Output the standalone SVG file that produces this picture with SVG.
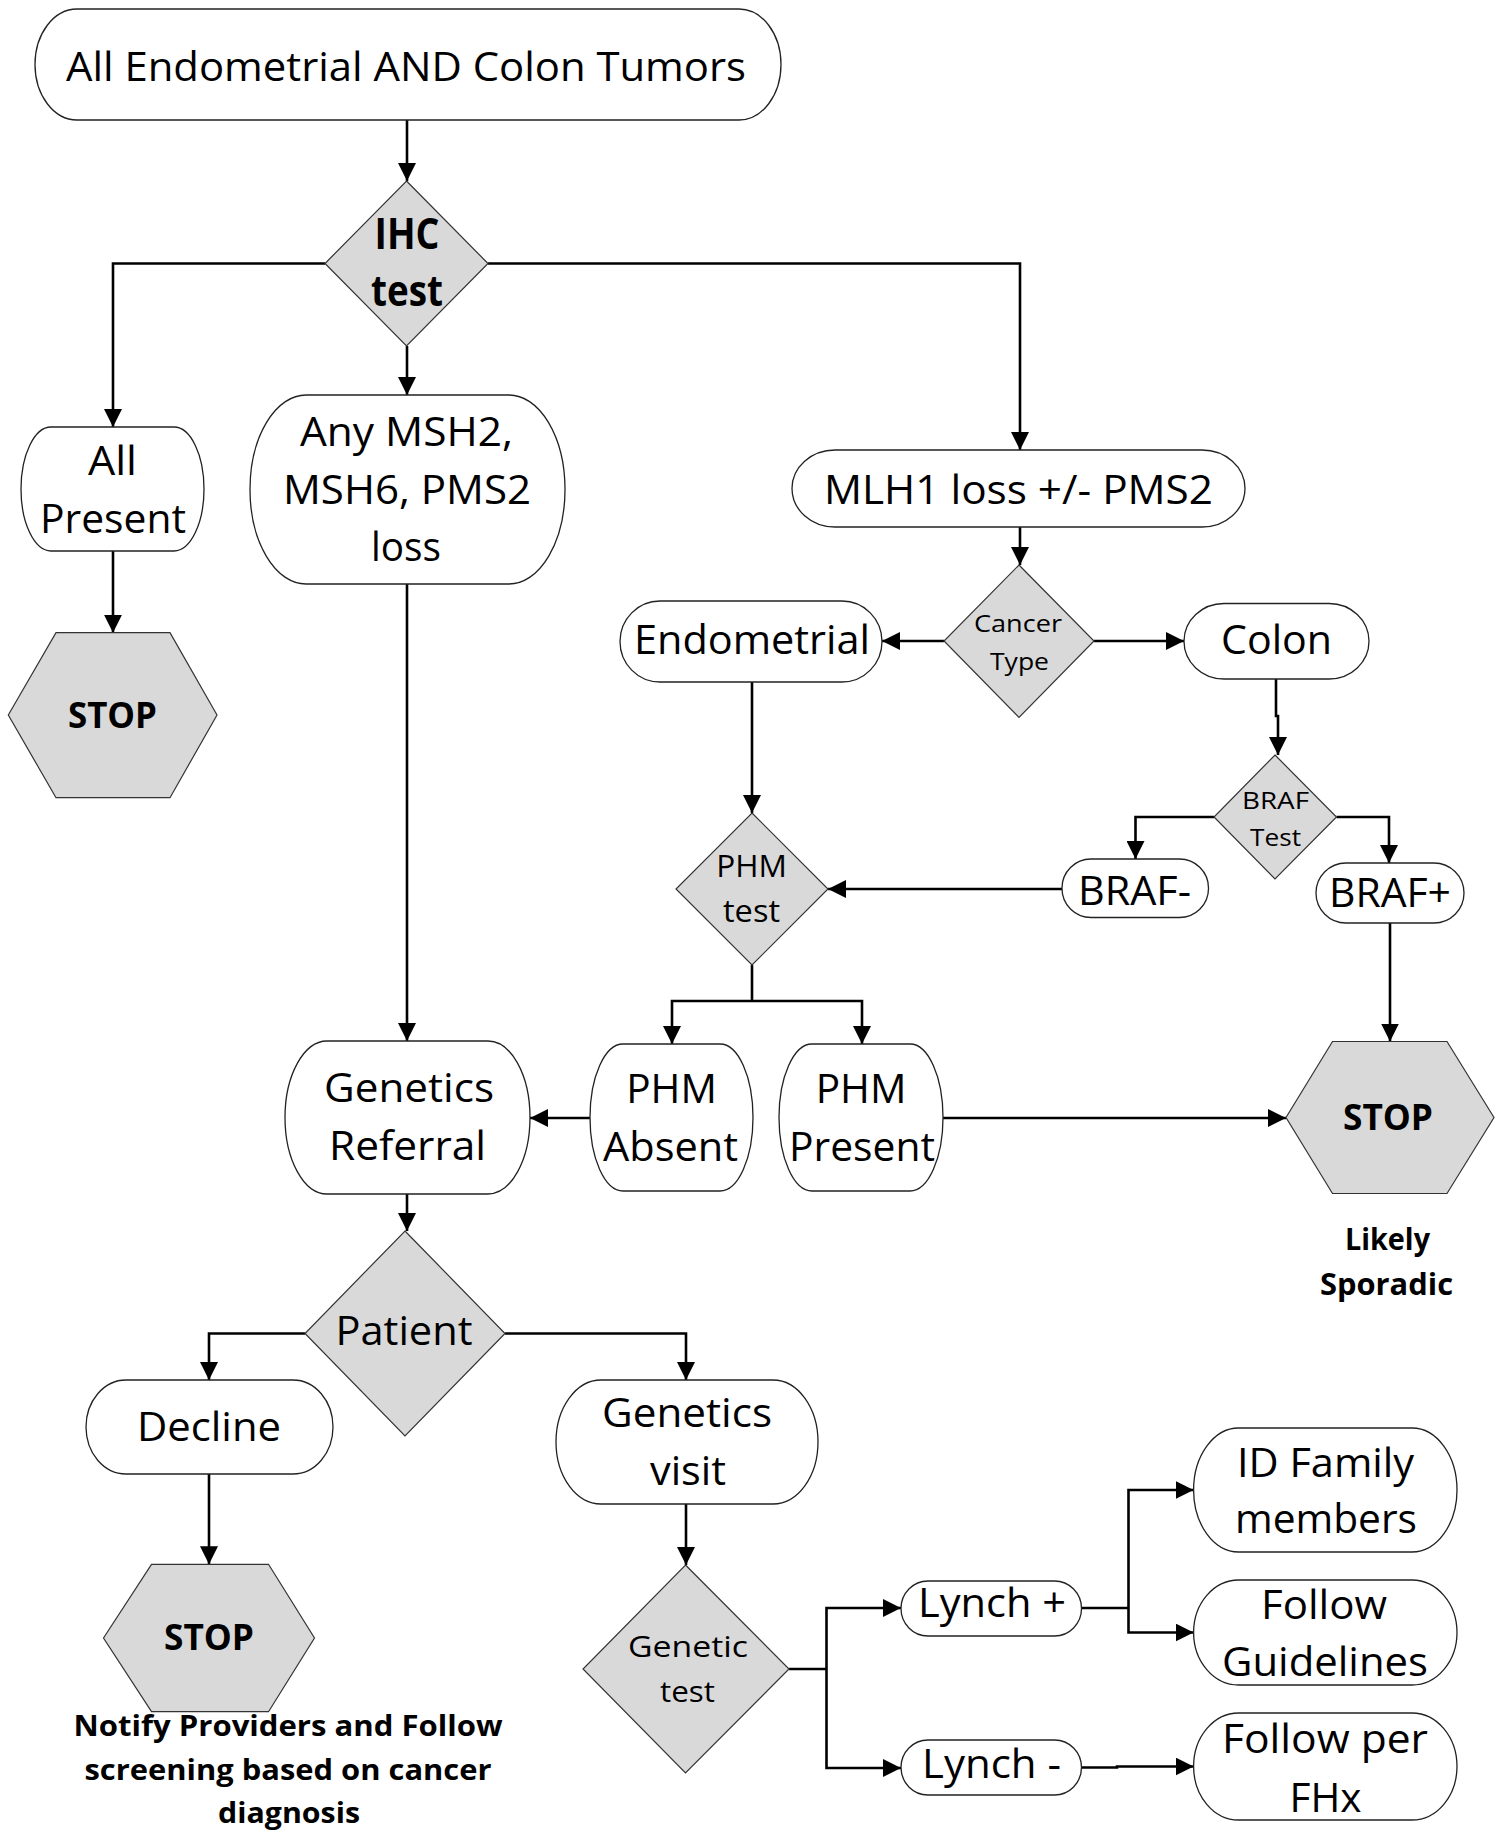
<svg xmlns="http://www.w3.org/2000/svg" width="1500" height="1833" viewBox="0 0 1500 1833">
<defs>
<marker id="ah" markerUnits="userSpaceOnUse" markerWidth="18" markerHeight="18" refX="18" refY="9" orient="auto">
<path d="M0,0 L18,9 L0,18 z" fill="#000"/>
</marker>
<style>
.box{fill:#fff;stroke:#222;stroke-width:1.3}
.dec{fill:#d9d9d9;stroke:#333;stroke-width:1.2}
.c{fill:none;stroke:#000;stroke-width:2.6}
.a{marker-end:url(#ah)}
text{font-family:'Open Sans','Noto Sans',sans-serif;text-anchor:middle;fill:#000}
.n{font-size:40px}
.s{font-size:24.5px}
.m{font-size:31px}
.b{font-weight:bold}
</style>
</defs>
<rect width="1500" height="1833" fill="#fff"/>

<g id="connectors">
<path class="c a" d="M407,120 V181"/>
<path class="c a" d="M325,263.5 H113 V427"/>
<path class="c a" d="M407,346 V395"/>
<path class="c a" d="M488,263.5 H1020 V450"/>
<path class="c a" d="M113,551 V632.7"/>
<path class="c a" d="M407,584 V1041"/>
<path class="c a" d="M1020,527 V565"/>
<path class="c a" d="M944,641 H882"/>
<path class="c a" d="M1094,641 H1184"/>
<path class="c a" d="M1276,679 V716 H1278 V755"/>
<path class="c a" d="M1214,817 H1135.5 V859"/>
<path class="c a" d="M1336.5,817 H1389 V863"/>
<path class="c a" d="M752,682 V813"/>
<path class="c a" d="M1062,889 H828"/>
<path class="c" d="M752,965 V1001"/>
<path class="c a" d="M752,1001 H672 V1044"/>
<path class="c a" d="M752,1001 H862 V1044"/>
<path class="c a" d="M590,1118 H530"/>
<path class="c a" d="M943,1118 H1286"/>
<path class="c a" d="M1390,923 V1041.5"/>
<path class="c a" d="M407,1194 V1231"/>
<path class="c a" d="M305,1333.5 H209 V1380"/>
<path class="c a" d="M505,1333.5 H686 V1380"/>
<path class="c a" d="M209,1474 V1564.3"/>
<path class="c a" d="M686,1504 V1565"/>
<path class="c" d="M789,1669 H826.5"/>
<path class="c a" d="M826.5,1669 V1608 H901"/>
<path class="c a" d="M826.5,1669 V1768 H901"/>
<path class="c" d="M1081,1608 H1128.5"/>
<path class="c a" d="M1128.5,1608 V1490 H1193.6"/>
<path class="c a" d="M1128.5,1608 V1632.5 H1193.6"/>
<path class="c a" d="M1081,1767.5 H1117 V1766.5 H1193.6"/>
</g>

<g id="start">
<rect class="box" x="35" y="9" width="746" height="111" rx="42" ry="55.5"/>
<text class="n" x="406" y="80.5" textLength="680" lengthAdjust="spacingAndGlyphs">All Endometrial AND Colon Tumors</text>
</g>

<g id="ihc">
<polygon class="dec" points="406.5,181 488,263.5 406.5,346 325,263.5"/>
<text class="b" style="font-size:43px" x="407" y="249" textLength="65" lengthAdjust="spacingAndGlyphs">IHC</text>
<text class="b" style="font-size:43px" x="407" y="306" textLength="72" lengthAdjust="spacingAndGlyphs">test</text>
</g>

<g id="allpresent">
<rect class="box" x="21" y="427" width="183" height="124" rx="30" ry="62"/>
<text class="n" x="112.5" y="475" textLength="49" lengthAdjust="spacingAndGlyphs">All</text>
<text class="n" x="113" y="532.6" textLength="146" lengthAdjust="spacingAndGlyphs">Present</text>
</g>

<g id="stop1">
<polygon class="dec" points="8.3,715 56,632.7 170,632.7 217,715 170,797.7 56,797.7"/>
<text class="b" style="font-size:35px" x="112.5" y="728.3" textLength="89" lengthAdjust="spacingAndGlyphs">STOP</text>
</g>

<g id="anymsh">
<rect class="box" x="250" y="395" width="315" height="189" rx="56" ry="94.5"/>
<text class="n" x="406.5" y="446" textLength="213" lengthAdjust="spacingAndGlyphs">Any MSH2,</text>
<text class="n" x="407" y="504" textLength="248" lengthAdjust="spacingAndGlyphs">MSH6, PMS2</text>
<text class="n" x="406" y="561" textLength="70" lengthAdjust="spacingAndGlyphs">loss</text>
</g>

<g id="mlh1">
<rect class="box" x="792" y="450" width="453" height="77" rx="43" ry="38.5"/>
<text class="n" x="1018.5" y="503.5" textLength="389" lengthAdjust="spacingAndGlyphs">MLH1 loss +/- PMS2</text>
</g>

<g id="cancertype">
<polygon class="dec" points="1019,565 1094,641 1019,717.5 944,641"/>
<text class="s" x="1018" y="631.6" textLength="88" lengthAdjust="spacingAndGlyphs">Cancer</text>
<text class="s" x="1019.5" y="669.5" textLength="59" lengthAdjust="spacingAndGlyphs">Type</text>
</g>

<g id="endometrial">
<rect class="box" x="620" y="601" width="262" height="81" rx="40" ry="40.5"/>
<text class="n" x="752" y="654" textLength="236" lengthAdjust="spacingAndGlyphs">Endometrial</text>
</g>

<g id="colon">
<rect class="box" x="1184" y="603.5" width="185" height="75.5" rx="40" ry="37.7"/>
<text class="n" x="1276.5" y="654" textLength="111" lengthAdjust="spacingAndGlyphs">Colon</text>
</g>

<g id="braftest">
<polygon class="dec" points="1275,755 1336.5,817 1275,879 1214,817"/>
<text class="s" x="1275.5" y="809" textLength="67" lengthAdjust="spacingAndGlyphs">BRAF</text>
<text class="s" x="1275.5" y="845.6" textLength="51" lengthAdjust="spacingAndGlyphs">Test</text>
</g>

<g id="brafneg">
<rect class="box" x="1062" y="859" width="146.5" height="58.5" rx="29" ry="29"/>
<text class="n" x="1134.5" y="905" textLength="113" lengthAdjust="spacingAndGlyphs">BRAF-</text>
</g>

<g id="brafpos">
<rect class="box" x="1316" y="863" width="148" height="60" rx="30" ry="30"/>
<text class="n" x="1390" y="907" textLength="122" lengthAdjust="spacingAndGlyphs">BRAF+</text>
</g>

<g id="phmtest">
<polygon class="dec" points="752,813 828,889 752,965 676,889"/>
<text class="m" x="751.5" y="877.3" textLength="70.7" lengthAdjust="spacingAndGlyphs">PHM</text>
<text class="m" x="751.5" y="921.7" textLength="57" lengthAdjust="spacingAndGlyphs">test</text>
</g>

<g id="phmabsent">
<rect class="box" x="590" y="1044" width="163" height="147" rx="33" ry="73.5"/>
<text class="n" x="671.5" y="1102.7" textLength="90.7" lengthAdjust="spacingAndGlyphs">PHM</text>
<text class="n" x="670.5" y="1160.7" textLength="135" lengthAdjust="spacingAndGlyphs">Absent</text>
</g>

<g id="phmpresent">
<rect class="box" x="779" y="1044" width="164" height="147" rx="33" ry="73.5"/>
<text class="n" x="861" y="1102.7" textLength="90.7" lengthAdjust="spacingAndGlyphs">PHM</text>
<text class="n" x="862" y="1160.7" textLength="146" lengthAdjust="spacingAndGlyphs">Present</text>
</g>

<g id="geneticsreferral">
<rect class="box" x="285" y="1041" width="245" height="153" rx="42" ry="76.5"/>
<text class="n" x="409" y="1101.7" textLength="170" lengthAdjust="spacingAndGlyphs">Genetics</text>
<text class="n" x="407.5" y="1160" textLength="157" lengthAdjust="spacingAndGlyphs">Referral</text>
</g>

<g id="stop2">
<polygon class="dec" points="1286,1117.5 1332.5,1041.5 1447,1041.5 1494,1117.5 1447,1193.5 1332.5,1193.5"/>
<text class="b" style="font-size:35px" x="1388" y="1130" textLength="90" lengthAdjust="spacingAndGlyphs">STOP</text>
<text class="b" style="font-size:30px" x="1387.5" y="1250" textLength="85" lengthAdjust="spacingAndGlyphs">Likely</text>
<text class="b" style="font-size:30px" x="1386.5" y="1295" textLength="133" lengthAdjust="spacingAndGlyphs">Sporadic</text>
</g>

<g id="patient">
<polygon class="dec" points="405,1231 505,1333.5 405,1436 305,1333.5"/>
<text class="n" x="404" y="1345" textLength="137" lengthAdjust="spacingAndGlyphs">Patient</text>
</g>

<g id="decline">
<rect class="box" x="86" y="1380" width="247" height="94" rx="40" ry="47"/>
<text class="n" x="209" y="1441" textLength="144" lengthAdjust="spacingAndGlyphs">Decline</text>
</g>

<g id="stop3">
<polygon class="dec" points="103.5,1638 151.5,1564.3 268.5,1564.3 314.5,1638 268.5,1711.7 151.5,1711.7"/>
<text class="b" style="font-size:35px" x="209" y="1650" textLength="90" lengthAdjust="spacingAndGlyphs">STOP</text>
<text class="b" style="font-size:28px" x="288" y="1736" textLength="429" lengthAdjust="spacingAndGlyphs">Notify Providers and Follow</text>
<text class="b" style="font-size:28px" x="288" y="1780" textLength="407" lengthAdjust="spacingAndGlyphs">screening based on cancer</text>
<text class="b" style="font-size:28px" x="289" y="1823" textLength="142" lengthAdjust="spacingAndGlyphs">diagnosis</text>
</g>

<g id="geneticsvisit">
<rect class="box" x="556" y="1380" width="262" height="124" rx="45" ry="62"/>
<text class="n" x="687" y="1426.7" textLength="170" lengthAdjust="spacingAndGlyphs">Genetics</text>
<text class="n" x="688" y="1485" textLength="76" lengthAdjust="spacingAndGlyphs">visit</text>
</g>

<g id="genetictest">
<polygon class="dec" points="685.5,1565 789,1669 685.5,1773 583,1669"/>
<text style="font-size:30px" x="688" y="1656.7" textLength="120" lengthAdjust="spacingAndGlyphs">Genetic</text>
<text style="font-size:30px" x="687.5" y="1701.7" textLength="55" lengthAdjust="spacingAndGlyphs">test</text>
</g>

<g id="lynchpos">
<rect class="box" x="901" y="1581" width="180.5" height="55" rx="27" ry="27.5"/>
<text class="n" x="992" y="1617" textLength="148" lengthAdjust="spacingAndGlyphs">Lynch +</text>
</g>

<g id="lynchneg">
<rect class="box" x="901" y="1740" width="180.5" height="55" rx="27" ry="27.5"/>
<text class="n" x="991.5" y="1778" textLength="139" lengthAdjust="spacingAndGlyphs">Lynch -</text>
</g>

<g id="idfamily">
<rect class="box" x="1193.6" y="1428" width="263.4" height="124" rx="45" ry="62"/>
<text class="n" x="1325.5" y="1477" textLength="177" lengthAdjust="spacingAndGlyphs">ID Family</text>
<text class="n" x="1326" y="1533" textLength="182" lengthAdjust="spacingAndGlyphs">members</text>
</g>

<g id="followguidelines">
<rect class="box" x="1193.6" y="1580" width="263.4" height="105" rx="45" ry="52.5"/>
<text class="n" x="1324" y="1618.5" textLength="126" lengthAdjust="spacingAndGlyphs">Follow</text>
<text class="n" x="1325" y="1676" textLength="206" lengthAdjust="spacingAndGlyphs">Guidelines</text>
</g>

<g id="followfhx">
<rect class="box" x="1193.6" y="1713" width="263.4" height="107" rx="45" ry="53.5"/>
<text class="n" x="1325" y="1753" textLength="206" lengthAdjust="spacingAndGlyphs">Follow per</text>
<text class="n" x="1325.5" y="1812" textLength="72" lengthAdjust="spacingAndGlyphs">FHx</text>
</g>
</svg>
